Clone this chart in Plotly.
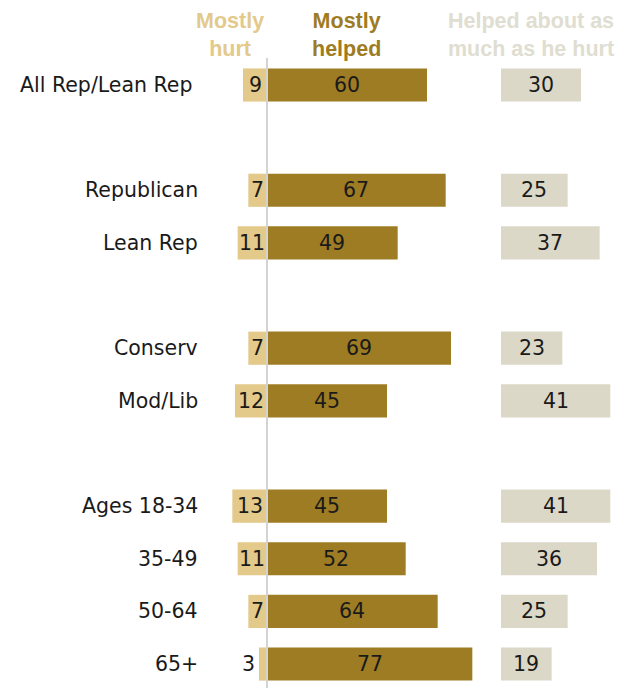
import plotly.graph_objects as go

categories = ["All Rep/Lean Rep", "Republican", "Lean Rep", "Conserv", "Mod/Lib",
              "Ages 18-34", "35-49", "50-64", "65+"]
row_pos = [0, 2, 3, 5, 6, 8, 9, 10, 11]
mostly_hurt = [9, 7, 11, 7, 12, 13, 11, 7, 3]
mostly_helped = [60, 67, 49, 69, 45, 45, 52, 64, 77]
about_same = [30, 25, 37, 23, 41, 41, 36, 25, 19]

C_HURT = "#E3C98A"
C_HELP = "#9E7C23"
C_SAME = "#DCD8C7"
C_SAME_HDR = "#E0DDD1"
THIRD_BASE = 87.75
FONT = "DejaVu Sans, sans-serif"
HFONT = "Liberation Sans, Arial, sans-serif"

# page body has an 8px margin, so the figure is 8px smaller and offsets shifted
W, H = 618, 680
OFF = 8
PX_PER_UNIT = 8 / 3
ZERO_PX = 267 - OFF
ROW_PX = 52.64
ROW0_PX = 85 - OFF

x_range = [-ZERO_PX / PX_PER_UNIT, (W - ZERO_PX) / PX_PER_UNIT]
y_range = [(H - ROW0_PX) / ROW_PX, -ROW0_PX / ROW_PX]

fig = go.Figure()
bw = 0.63
fig.add_trace(go.Bar(y=row_pos, x=[-v for v in mostly_hurt], orientation="h",
                     marker=dict(color=C_HURT, line=dict(width=0)), width=bw,
                     hoverinfo="skip"))
fig.add_trace(go.Bar(y=row_pos, x=mostly_helped, orientation="h",
                     marker=dict(color=C_HELP, line=dict(width=0)), width=bw,
                     hoverinfo="skip"))
fig.add_trace(go.Bar(y=row_pos, x=about_same, base=[THIRD_BASE] * len(about_same),
                     orientation="h",
                     marker=dict(color=C_SAME, line=dict(width=0)), width=bw,
                     hoverinfo="skip"))

ann = []
lab_font = dict(family=FONT, size=20.5, color="#1a1a1a")
for cat, y, h, p, s in zip(categories, row_pos, mostly_hurt, mostly_helped, about_same):
    right_px = (194 if cat == "All Rep/Lean Rep" else 200) - OFF
    ann.append(dict(x=right_px / W, xref="paper",
                    y=y, yref="y", text=cat, showarrow=False, xanchor="right",
                    font=dict(family=FONT, size=20.5, color="#1a1a1a")))
    if h >= 5:
        ann.append(dict(x=-h / 2, y=y, xref="x", yref="y", text=str(h), showarrow=False,
                        xanchor="center", font=lab_font))
    else:
        ann.append(dict(x=-h - 0.6, y=y, xref="x", yref="y", text=str(h), showarrow=False,
                        xanchor="right", font=lab_font))
    ann.append(dict(x=p / 2, y=y, xref="x", yref="y", text=str(p), showarrow=False,
                    xanchor="center", font=lab_font))
    ann.append(dict(x=THIRD_BASE + s / 2, y=y, xref="x", yref="y", text=str(s),
                    showarrow=False, xanchor="center", font=lab_font))

hdr_y = 1 - (35 - OFF) / H
hdr = [("<b>Mostly<br>hurt</b>", 230, C_HURT),
       ("<b>Mostly<br>helped</b>", 346, C_HELP),
       ("<b>Helped about as<br>much as he hurt</b>", 531, C_SAME_HDR)]
for txt, cx, col in hdr:
    ann.append(dict(x=(cx - OFF) / W, y=hdr_y, xref="paper", yref="paper", text=txt,
                    showarrow=False, xanchor="center", yanchor="middle",
                    font=dict(family=HFONT, size=21.5, color=col)))

fig.update_layout(
    width=W, height=H, margin=dict(l=0, r=0, t=0, b=0),
    plot_bgcolor="white", paper_bgcolor="white",
    barmode="overlay", showlegend=False,
    xaxis=dict(range=x_range, visible=False, fixedrange=True),
    yaxis=dict(range=y_range, visible=False, fixedrange=True),
    annotations=ann,
    shapes=[dict(type="line", xref="x", yref="paper", x0=0, x1=0, y0=0,
                 y1=1 - (58 - OFF) / H,
                 line=dict(color="#D3D3D3", width=2), layer="above")],
)

fig.write_html("out.html")
